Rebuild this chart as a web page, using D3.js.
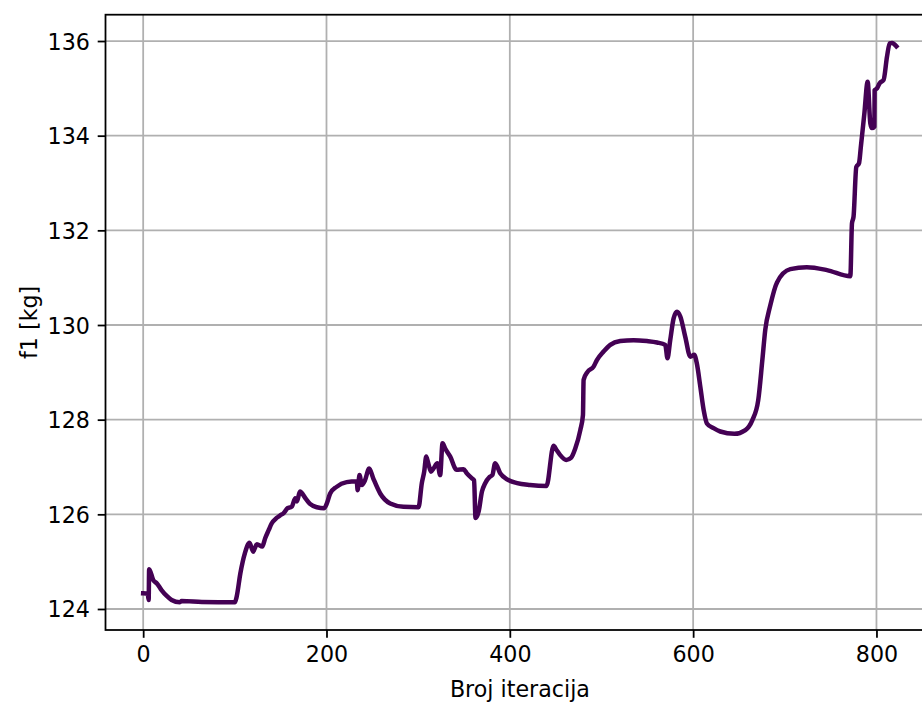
<!DOCTYPE html>
<html>
<head>
<meta charset="utf-8">
<script src="https://cdn.jsdelivr.net/npm/d3@7"></script>
<style>
  html, body { margin: 0; padding: 0; background: #fff; overflow: hidden; }
  text { font-family: "DejaVu Sans", sans-serif; }
</style>
</head>
<body>
<div id="chart"></div>
<script>
// ---- data ----
const iterations = [0,5,6,6.5,11,15,20,26,31,40,42,64,100,102,106,111,116,120,124,130,133,137,140,146,149.5,153,157.5,162,166,167.7,171,177,182,189.5,197.5,200.4,204,211,222,233,234,236,238.6,242,246.6,251,258.6,269.5,284,300.4,304,306.6,308.8,311,314,316.8,321,324,326.6,329.5,335,342,349.5,353,358.7,361,362.6,366,369.6,373,378,381,384,389.5,397,408,422,440,447.7,451,455,461.6,467,471.4,476.9,479.8,480.5,484.8,491.4,495,502.3,509.6,520.5,535,549.6,560.6,569.6,572,575,578.7,582.4,586,591.4,597,601.2,604,607.8,611.5,615,622.3,629.6,645,657,664.6,671,675.5,678.7,684,691.5,706,724,746,771.5,773.3,775,778,781,783,786.8,790.4,793.3,795,797.7,798,800.6,803.5,807.8,811.5,814.4,817,821.7];
const f1 = [124.33,124.32,124.19,124.84,124.61,124.54,124.40,124.27,124.19,124.14,124.17,124.15,124.14,124.26,124.75,125.18,125.40,125.21,125.37,125.32,125.49,125.67,125.80,125.93,125.98,126.02,126.13,126.16,126.34,126.27,126.48,126.34,126.22,126.15,126.13,126.23,126.44,126.58,126.68,126.70,126.51,126.83,126.62,126.72,126.97,126.76,126.44,126.23,126.16,126.15,126.66,126.90,127.22,127.08,126.90,126.97,127.08,126.83,127.50,127.39,127.22,126.94,126.95,126.87,126.76,126.72,125.92,126.06,126.48,126.65,126.79,126.83,127.08,126.87,126.74,126.66,126.62,126.60,127.45,127.36,127.25,127.15,127.20,127.39,127.78,128.10,128.84,129.01,129.12,129.26,129.44,129.58,129.66,129.68,129.66,129.63,129.58,129.30,129.68,130.14,130.28,130.18,129.75,129.33,129.37,129.19,128.70,128.20,127.92,127.82,127.75,127.70,127.78,127.99,128.41,129.26,129.90,130.40,130.90,131.18,131.22,131.16,131.03,132.15,132.29,133.34,133.42,133.77,134.47,135.14,134.26,134.16,134.19,134.96,135.00,135.11,135.18,135.67,135.95,135.96,135.89];
const xTicks = [0, 200, 400, 600, 800];
const yTicks = [124, 126, 128, 130, 132, 134, 136];
const xLabel = "Broj iteracija";
const yLabel = "f1 [kg]";

(function () {
// ---- layout ----
const W = 922, H = 704;
const pL = 105.5, pT = 14.7, pR = 934.3, pB = 630;
const fontSize = 22.2;
const tickLen = 7.8, tickPad = 7.8;

const data = iterations.map((v, i) => ({ x: v, y: f1[i] }));

const x = d3.scaleLinear().domain([-41.1, 863.1]).range([pL, pR]);
const y = d3.scaleLinear().domain([123.556, 136.556]).range([pB, pT]);

const svg = d3.select("#chart").append("svg")
  .attr("width", W).attr("height", H)
  .attr("viewBox", `0 0 ${W} ${H}`);

svg.append("defs").append("clipPath").attr("id", "clip")
  .append("rect").attr("x", pL).attr("y", pT)
  .attr("width", pR - pL).attr("height", pB - pT);

// grid
const grid = svg.append("g");
grid.selectAll(".gx").data(xTicks).join("line").attr("class", "gx")
  .attr("x1", d => x(d)).attr("x2", d => x(d))
  .attr("y1", pT).attr("y2", pB)
  .attr("stroke", "#b0b0b0").attr("stroke-width", 1.78);
grid.selectAll(".gy").data(yTicks).join("line").attr("class", "gy")
  .attr("x1", pL).attr("x2", pR)
  .attr("y1", d => y(d)).attr("y2", d => y(d))
  .attr("stroke", "#b0b0b0").attr("stroke-width", 1.78);

// line
const line = d3.line().x(d => x(d.x)).y(d => y(d.y)).curve(d3.curveMonotoneX);
svg.append("path").datum(data)
  .attr("clip-path", "url(#clip)")
  .attr("d", line)
  .attr("fill", "none")
  .attr("stroke", "#440154")
  .attr("stroke-width", 4.5)
  .attr("stroke-linejoin", "round")
  .attr("stroke-linecap", "square");

// axes
const xAxis = d3.axisBottom(x).tickValues(xTicks).tickFormat(d3.format("d"))
  .tickSize(tickLen).tickPadding(tickPad);
const yAxis = d3.axisLeft(y).tickValues(yTicks).tickFormat(d3.format("d"))
  .tickSize(tickLen).tickPadding(tickPad);

const gx = svg.append("g").attr("transform", `translate(0,${pB})`).call(xAxis);
const gy = svg.append("g").attr("transform", `translate(${pL},0)`).call(yAxis);
[gx, gy].forEach(g => {
  g.select(".domain").remove();
  g.selectAll(".tick line").attr("stroke", "#000").attr("stroke-width", 1.78);
  g.selectAll(".tick text").attr("fill", "#000")
    .style("font-family", "'DejaVu Sans', sans-serif").style("font-size", fontSize + "px");
});
gy.selectAll(".tick text").attr("dy", "0.36em");
gx.selectAll(".tick text").attr("dy", "0.76em");

// spines
svg.append("rect").attr("x", pL).attr("y", pT)
  .attr("width", pR - pL).attr("height", pB - pT)
  .attr("fill", "none").attr("stroke", "#000").attr("stroke-width", 1.78);

// labels
svg.append("text").attr("x", (pL + pR) / 2).attr("y", 697)
  .attr("text-anchor", "middle").style("font-size", fontSize + "px").attr("fill", "#000")
  .text(xLabel);
svg.append("text")
  .attr("transform", `translate(37,${(pT + pB) / 2}) rotate(-90)`)
  .attr("text-anchor", "middle").style("font-size", fontSize + "px").attr("fill", "#000")
  .text(yLabel);
})();
</script>
</body>
</html>
